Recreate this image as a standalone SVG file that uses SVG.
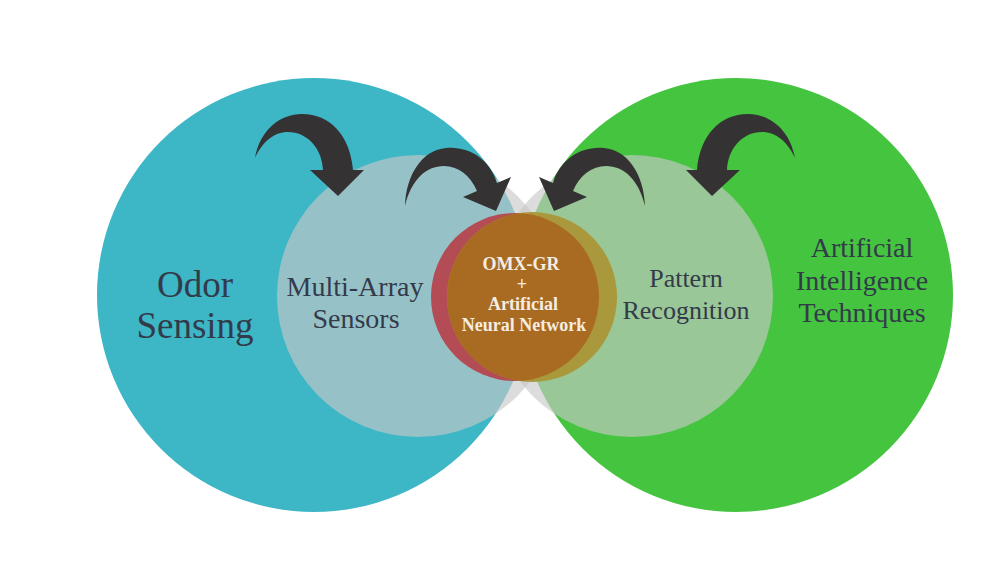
<svg xmlns="http://www.w3.org/2000/svg" width="1000" height="563" viewBox="0 0 1000 563">
  <defs>
    <style>
      .lbl { font-family: "Liberation Serif", "Times New Roman", serif; fill: #333a4a; text-anchor: middle; }
      .big { font-size: 37px; }
      .mid { font-size: 28px; }
      .ctr { font-family: "Liberation Serif", "Times New Roman", serif; font-size: 18px; font-weight: bold; fill: #f4ede2; text-anchor: middle; }
      .soft { fill: #c8c8c8; fill-opacity: 0.64; }
      .arrow { fill: #343233; }
    </style>
    <clipPath id="redClip">
      <circle cx="515" cy="297" r="84"/>
    </clipPath>
  </defs>
  <rect width="1000" height="563" fill="#ffffff"/>

  <g id="odor-sensing">
    <circle cx="314" cy="295" r="217" fill="#3db6c6"/>
    <text class="lbl big" x="195" y="297">Odor</text>
    <text class="lbl big" x="195" y="338">Sensing</text>
  </g>

  <g id="ai-techniques">
    <circle cx="736" cy="295" r="217" fill="#45c440"/>
    <text class="lbl mid" x="862" y="257">Artificial</text>
    <text class="lbl mid" x="862" y="290">Intelligence</text>
    <text class="lbl mid" x="862" y="322">Techniques</text>
  </g>

  <g id="multi-array-sensors">
    <circle class="soft" cx="418" cy="296" r="141"/>
    <text class="lbl mid" x="355" y="296">Multi-Array</text>
    <text class="lbl mid" x="356" y="328">Sensors</text>
  </g>

  <g id="pattern-recognition">
    <circle class="soft" cx="632" cy="296" r="141"/>
    <text class="lbl mid" x="686" y="287" style="font-size:26px">Pattern</text>
    <text class="lbl mid" x="686" y="319" style="font-size:26px">Recognition</text>
  </g>

  <g id="omx-gr-ann">
    <circle cx="515" cy="297" r="84" fill="#b34c54"/>
    <circle cx="532" cy="297" r="85" fill="#aa983c"/>
    <circle cx="532" cy="297" r="85" fill="#a96a22" clip-path="url(#redClip)"/>
    <text class="ctr" x="521" y="270">OMX-GR</text>
    <text class="ctr" x="522" y="290">+</text>
    <text class="ctr" x="523" y="310">Artificial</text>
    <text class="ctr" x="524" y="331">Neural Network</text>
  </g>

  <g id="connectors">
    <path class="arrow" d="M255,158 C260,130 280,114 302,114 C330,114 350,135 353,170 L364,170 L338,196 L310,170 L323,170 C322,148 307,132 288,132 C274,132 262,142 255,158 Z"/>
    <path class="arrow" d="M405,206 C406,175 422,150 446,148 C470,146 490,160 497,183 L511,177 L496,211 L463,197 L477,191 C470,175 458,166 444,166 C426,166 411,180 405,206 Z"/>
    <g transform="matrix(-1 0 0 1 1050 0)">
      <path class="arrow" d="M405,206 C406,175 422,150 446,148 C470,146 490,160 497,183 L511,177 L496,211 L463,197 L477,191 C470,175 458,166 444,166 C426,166 411,180 405,206 Z"/>
      <path class="arrow" d="M255,158 C260,130 280,114 302,114 C330,114 350,135 353,170 L364,170 L338,196 L310,170 L323,170 C322,148 307,132 288,132 C274,132 262,142 255,158 Z"/>
    </g>
  </g>
</svg>
